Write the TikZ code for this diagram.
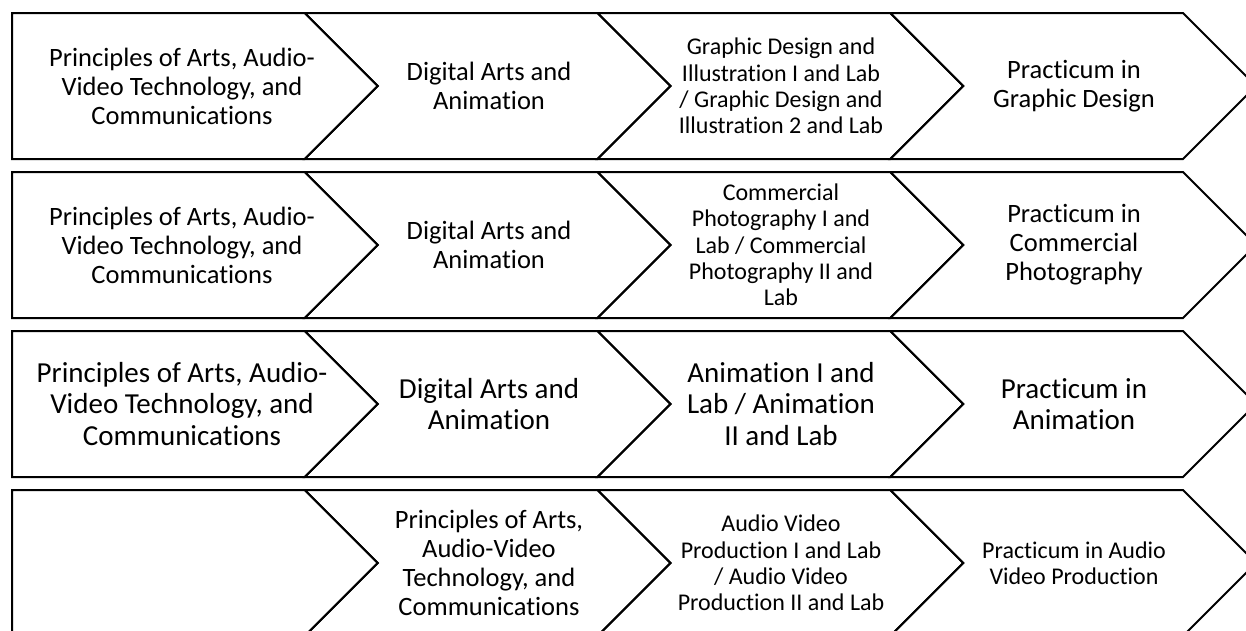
\documentclass[tikz,border=0pt]{standalone}
\usepackage{fontspec}
\setmainfont{Carlito}[Ligatures=NoCommon]

\begin{document}
\begin{tikzpicture}[x=1pt,y=-1pt,line width=2pt]
  \pgfmathsetmacro\cstep{292.75}  % body width of one chevron
  \pgfmathsetmacro\rstep{159}     % distance from row to row
  \pgfmathsetmacro\rh{146}        % height of a row
  \pgfmathsetmacro\tip{73}        % depth of the point
  \tikzset{big/.style={align=center,font=\fontsize{26.5}{29}\selectfont},
           small/.style={align=center,font=\fontsize{24}{26.3}\selectfont},
           large/.style={align=center,font=\fontsize{29}{31.7}\selectfont}}
  \clip (0,0) rectangle (1246,630);

% chevron outlines, four rows of four
  \foreach \r in {0,...,3}
    \foreach \c in {0,...,3} {
      \pgfmathsetmacro\xl{12+\c*\cstep}
      \pgfmathsetmacro\yt{13+\r*\rstep}
      \pgfmathsetmacro\nd{\c>0 ? \tip : 0}
      \draw (\xl,\yt) -- (\xl+\cstep,\yt) -- (\xl+\cstep+\tip,\yt+\rh/2)
            -- (\xl+\cstep,\yt+\rh) -- (\xl,\yt+\rh) -- (\xl+\nd,\yt+\rh/2) -- cycle;
    }

% graphic design
  \node[big]   (g1) at (182,86)  {Principles of Arts, Audio-\\Video Technology, and\\Communications};
  \node[big]   (g2) at (489,86)  {Digital Arts and\\Animation};
  \node[small] (g3) at (781,86)  {Graphic Design and\\Illustration I and Lab\\/ Graphic Design and\\Illustration 2 and Lab};
  \node[big]   (g4) at (1074,86) {Practicum in\\Graphic Design};
% commercial photography
  \node[big]   (p1) at (182,245)  {Principles of Arts, Audio-\\Video Technology, and\\Communications};
  \node[big]   (p2) at (489,245)  {Digital Arts and\\Animation};
  \node[small] (p3) at (781,245)  {Commercial\\Photography I and\\Lab / Commercial\\Photography II and\\Lab};
  \node[big]   (p4) at (1074,245) {Practicum in\\Commercial\\Photography};
% animation
  \node[large] (a1) at (182,404)  {Principles of Arts, Audio-\\Video Technology, and\\Communications};
  \node[large] (a2) at (489,404)  {Digital Arts and\\Animation};
  \node[large] (a3) at (781,404)  {Animation I and\\Lab / Animation\\II and Lab};
  \node[large] (a4) at (1074,404) {Practicum in\\Animation};
% audio video production
  \node[big]   (v2) at (489,563)  {Principles of Arts,\\Audio-Video\\Technology, and\\Communications};
  \node[small] (v3) at (781,563)  {Audio Video\\Production I and Lab\\/ Audio Video\\Production II and Lab};
  \node[small] (v4) at (1074,563) {Practicum in Audio\\Video Production};
\end{tikzpicture}
\end{document}
